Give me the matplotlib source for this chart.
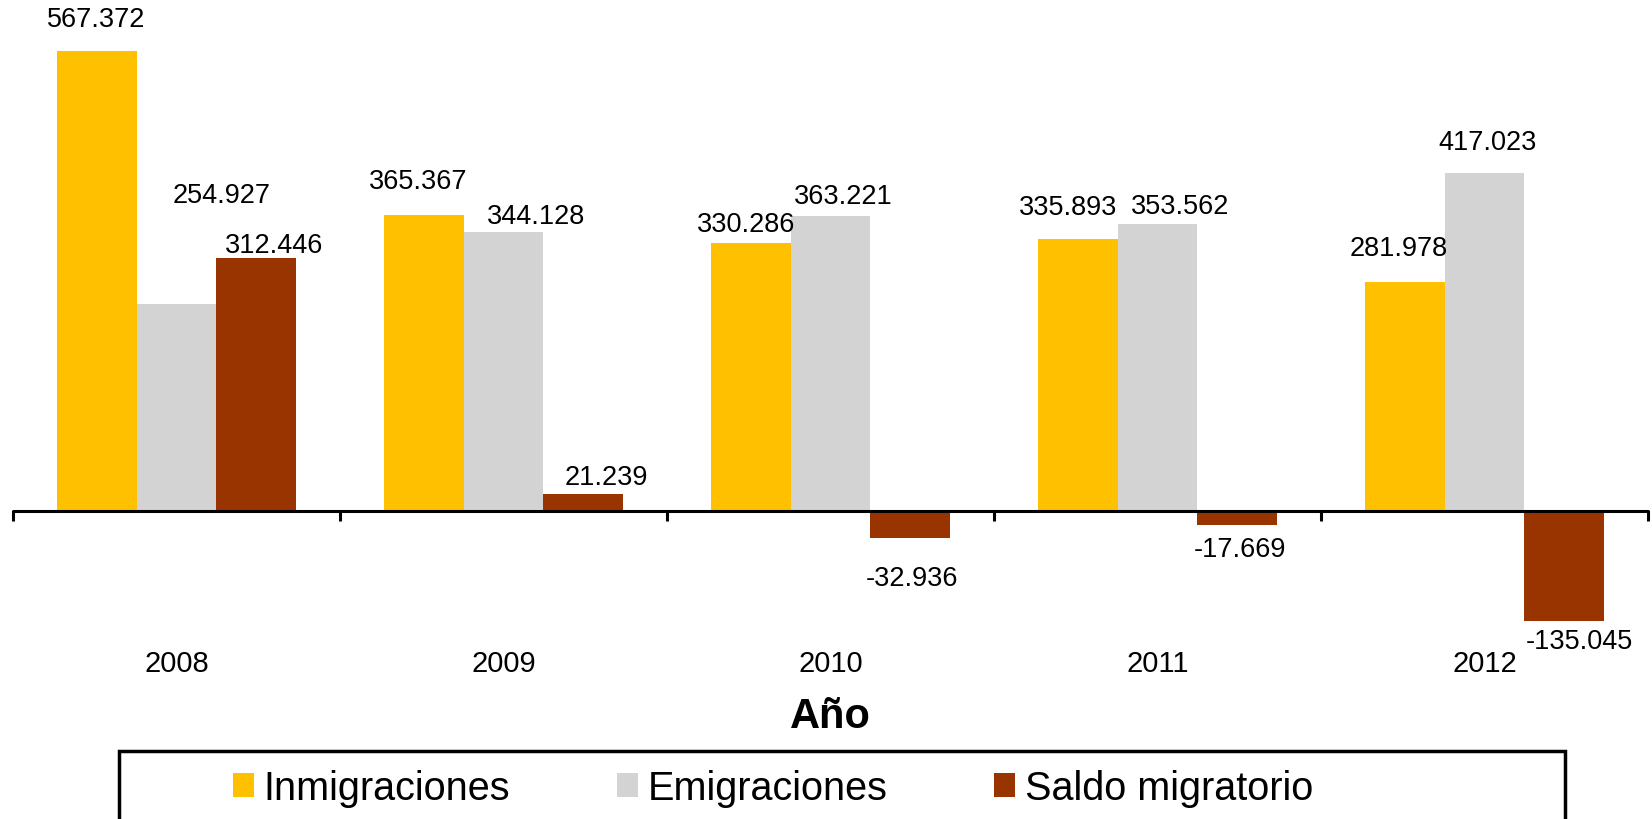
import matplotlib
matplotlib.use("Agg")

import matplotlib.pyplot as plt
from matplotlib.patches import Rectangle
import numpy as np

# datos
years = ["2008", "2009", "2010", "2011", "2012"]
inmigraciones = [567372, 365367, 330286, 335893, 281978]
emigraciones = [254927, 344128, 363221, 353562, 417023]
saldo = [312446, 21239, -32936, -17669, -135045]

series_names = ["Inmigraciones", "Emigraciones", "Saldo migratorio"]
series_values = [inmigraciones, emigraciones, saldo]
colors = ["#FFC000", "#D3D3D3", "#993300"]

# desplazamiento (px) de cada etiqueta respecto al extremo de su barra
label_offsets = [
    [(0, 32), (-5, 34), (-4, 19), (-9, 32), (-6, 34)],
    [(45, 109), (33, 16), (13, 20), (23, 18), (3, 31)],
    [(18, 13), (23, 17), (2, -40), (2, -24), (15, -20)],
]

plt.rcParams["font.family"] = ["Liberation Sans", "DejaVu Sans"]

W, H = 1652, 820
fig = plt.figure(figsize=(W / 100, H / 100), dpi=100)
ax = fig.add_axes([13 / W, 0, 1635 / W, 1])

units_per_px = 1233
axis_px = 512
ax.set_ylim(-(H - axis_px) * units_per_px, axis_px * units_per_px)
ax.set_xlim(-0.5, len(years) - 0.5)

x = np.arange(len(years))
width = 0.2446
handles = []
for k, (name, vals, col) in enumerate(zip(series_names, series_values, colors)):
    pos = x + (k - 1) * width
    bars = ax.bar(pos, vals, width, color=col, edgecolor="none", label=name)
    handles.append(bars)
    for i, v in enumerate(vals):
        dx, dy = label_offsets[k][i]
        txt = f"{v:,}".replace(",", ".")
        ax.annotate(txt, xy=(pos[i], v), xytext=(dx, dy), textcoords="offset pixels",
                    ha="center", va="center", fontsize=19.5)

for s in ["top", "left", "right"]:
    ax.spines[s].set_visible(False)
ax.spines["bottom"].set_position(("data", 0))
ax.spines["bottom"].set_linewidth(2.2)
ax.spines["bottom"].set_capstyle("round")
ax.set_yticks([])

ax.set_xticks(np.arange(-0.5, len(years), 1))
ax.set_xticklabels([])
ax.tick_params(axis="x", which="major", direction="out", length=7, width=2.2)
ax.set_xticks(x, minor=True)
ax.set_xticklabels(years, minor=True, fontsize=21)
ax.tick_params(axis="x", which="minor", length=0, pad=99)

ax.set_xlabel("Año", fontsize=30, fontweight="bold", va="center")
ax.xaxis.set_label_coords(0.5, 1 - 717 / H)

fig.legend(handles, series_names, ncol=3, loc="center",
           bbox_to_anchor=(773 / W, 1 - 789 / H), frameon=False, fontsize=28.5,
           handlelength=0.53, handleheight=0.53, handletextpad=0.24,
           columnspacing=2.7)
fig.add_artist(Rectangle((119 / W, -0.05), (1565 - 119) / W, 0.05 + 1 - 752 / H,
                         transform=fig.transFigure, fill=False, lw=2.5,
                         edgecolor="black"))

fig.savefig("out.png", dpi=100)
plt.close(fig)
